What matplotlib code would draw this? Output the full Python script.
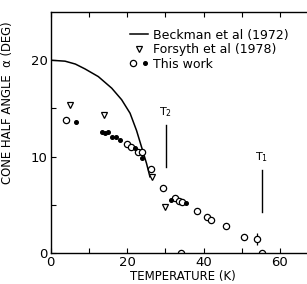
import numpy as np
import matplotlib
matplotlib.use('Agg')
import matplotlib.pyplot as plt
from matplotlib.lines import Line2D
from matplotlib.legend_handler import HandlerTuple

# Beckman et al (1972) curve
beck_T = [0, 3.8, 6.5, 9.0, 12.5, 16.0, 18.6, 20.8, 22.5, 23.8, 25.1, 26.0]
beck_a = [20.0, 19.9, 19.6, 19.1, 18.3, 17.1, 15.9, 14.5, 12.7, 11.0, 9.3, 7.9]

# Forsyth et al (1978)
fors_T = [5.1, 14.0, 26.6, 30.0]
fors_a = [15.4, 14.3, 7.9, 4.8]

# this work, open and filled
open_T = [4.0, 20.0, 21.0, 22.8, 23.8, 26.3, 29.4, 32.6, 33.7, 34.4, 38.3, 40.9, 42.0, 45.9, 50.6, 54.0, 34.0, 55.3]
open_a = [13.8, 11.3, 11.0, 10.5, 10.5, 8.7, 6.7, 5.7, 5.4, 5.3, 4.35, 3.7, 3.45, 2.8, 1.65, 1.45, 0.0, 0.0]
fill_T = [6.6, 13.4, 14.2, 15.1, 16.0, 17.0, 18.2, 22.1, 24.0, 31.5, 35.4]
fill_a = [13.6, 12.6, 12.5, 12.6, 12.0, 12.0, 11.7, 10.85, 9.9, 5.5, 5.15]

err_T, err_a, err_d = 54.0, 1.45, 0.6

T2, T2_lo, T2_hi = 30.2, 8.9, 13.3
T1, T1_lo, T1_hi = 55.2, 4.3, 8.6

fig = plt.figure(figsize=(3.07, 2.84), dpi=100)
ax = fig.add_axes([50.5/307, 1-253/284, 1-50.5/307, (253-12)/284])

ax.plot(beck_T, beck_a, color='k', lw=1.1)
ax.plot(fors_T, fors_a, 'v', mfc='white', mec='k', ms=4.5, mew=0.9, ls='none')
ax.errorbar([err_T], [err_a], yerr=[err_d], fmt='none', ecolor='k', elinewidth=0.9, capsize=0)
ax.plot(open_T, open_a, 'o', mfc='white', mec='k', ms=4.5, mew=0.9, ls='none')
ax.plot(fill_T, fill_a, 'o', color='k', ms=2.6, ls='none')

ax.plot([T2, T2], [T2_lo, T2_hi], color='k', lw=1)
ax.text(T2, T2_hi + 0.6, 'T$_2$', ha='center', va='bottom', fontsize=8)
ax.plot([T1, T1], [T1_lo, T1_hi], color='k', lw=1)
ax.text(T1, T1_hi + 0.6, 'T$_1$', ha='center', va='bottom', fontsize=8)

ax.set_xlim(0, (307-50.5)/3.825)
ax.set_ylim(0, 25)
ax.set_xticks([0, 20, 40, 60])
ax.set_xticks([10, 30, 50], minor=True)
ax.set_yticks([0, 10, 20])
ax.set_yticks([5, 15], minor=True)
ax.tick_params(which='both', direction='in', length=3.5, width=0.8, top=True,
               labelsize=9.5, pad=2)
ax.spines['right'].set_visible(False)
for s in ['left', 'bottom', 'top']:
    ax.spines[s].set_linewidth(1.0)

h_line = Line2D([], [], color='k', lw=1.1)
h_tri = Line2D([], [], marker='v', mfc='white', mec='k', ms=4.5, mew=0.9, ls='none')
h_o = Line2D([], [], marker='o', mfc='white', mec='k', ms=4.5, mew=0.9, ls='none')
h_f = Line2D([], [], marker='o', color='k', ms=2.6, ls='none')
ax.legend([h_line, h_tri, (h_o, h_f)],
          ['Beckman et al (1972)', 'Forsyth et al (1978)', 'This work'],
          handler_map={tuple: HandlerTuple(ndivide=None, pad=0.6)},
          loc='upper left', bbox_to_anchor=(0.31, 0.93), frameon=False,
          fontsize=9, handlelength=1.45, handletextpad=0.4,
          labelspacing=0.12, borderpad=0, borderaxespad=0)

fig.text(8/307, 1-103/284, 'CONE HALF ANGLE  \u03b1 (DEG)', rotation=90,
         ha='center', va='center', fontsize=8.4)
fig.text(183/307, 1/284, 'TEMPERATURE (K)', ha='center', va='bottom', fontsize=8.5)

fig.savefig('out.png', dpi=100)
